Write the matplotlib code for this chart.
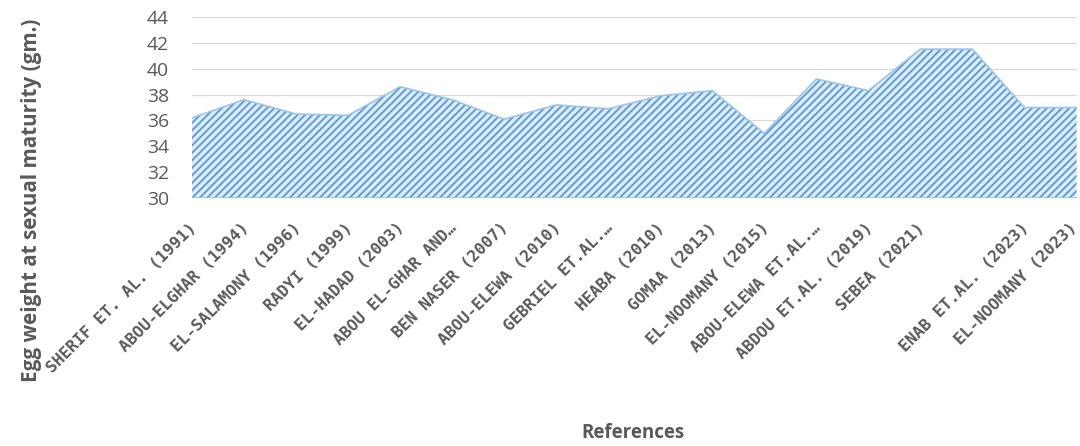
import matplotlib
matplotlib.use("Agg")
import matplotlib.pyplot as plt
from matplotlib.transforms import ScaledTranslation, blended_transform_factory

# Egg weight at sexual maturity reported by each reference
references = [
    "SHERIF ET. AL. (1991)",
    "ABOU-ELGHAR (1994)",
    "EL-SALAMONY (1996)",
    "RADYI (1999)",
    "EL-HADAD (2003)",
    "ABOU EL-GHAR AND…",
    "BEN NASER (2007)",
    "ABOU-ELEWA (2010)",
    "GEBRIEL ET.AL.…",
    "HEABA (2010)",
    "GOMAA (2013)",
    "EL-NOOMANY (2015)",
    "ABOU-ELEWA ET.AL.…",
    "ABDOU ET.AL. (2019)",
    "SEBEA (2021)",
    "",
    "ENAB ET.AL. (2023)",
    "EL-NOOMANY (2023)",
]
egg_weight = [36.2, 37.6, 36.5, 36.4, 38.6, 37.6, 36.1, 37.2, 36.9, 37.9,
              38.3, 35.0, 39.2, 38.3, 41.5, 41.5, 37.0, 37.0]
y_ticks = [30, 32, 34, 36, 38, 40, 42, 44]

TEXT = "#595959"
DPI = 90
W, H = 1080, 446

plt.rcParams["font.family"] = ["Open Sans", "DejaVu Sans"]
plt.rcParams["hatch.linewidth"] = 1.5

fig = plt.figure(figsize=(W / DPI, H / DPI), dpi=DPI)
fig.patch.set_facecolor("white")

left, right, top, bottom = 192, 1076.5, 16.7, 198.3
ax = fig.add_axes([left / W, 1 - bottom / H, (right - left) / W, (bottom - top) / H])

x = list(range(len(egg_weight)))

ax.fill_between(x, egg_weight, y_ticks[0], facecolor="#DDEBF7",
                edgecolor="#5B9BD5", linewidth=0, hatch="////", zorder=2)
ax.plot(x, egg_weight, color="#9DC3E6", linewidth=1.3, zorder=3)
ax.plot([x[0], x[-1]], [y_ticks[0], y_ticks[0]], color="#9DC3E6",
        linewidth=1.3, zorder=3)

ax.set_xlim(x[0], x[-1])
ax.set_ylim(y_ticks[0], y_ticks[-1])
ax.set_yticks(y_ticks)
ax.set_xticks([])
ax.yaxis.grid(True, color="#D9D9D9", linewidth=1.0)
ax.set_axisbelow(True)
for s in ax.spines.values():
    s.set_visible(False)
ax.tick_params(axis="y", length=0, pad=18.4, labelsize=15.5, labelcolor=TEXT)

# rotated category labels hanging below the plot area (wide, evenly spaced letters)
base_tf = blended_transform_factory(ax.transData, ax.transAxes)
for xi, ref in zip(x, references):
    dx = 2 if xi < x[-1] else -2
    tf = base_tf + ScaledTranslation(dx / DPI, -27 / DPI, fig.dpi_scale_trans)
    ax.text(xi, 0, ref, transform=tf, rotation=45, rotation_mode="anchor",
            ha="right", va="center", fontsize=13, fontweight="bold",
            family=["DejaVu Sans Mono"], color=TEXT, clip_on=False)

fig.text(32 / W, 1 - 200 / H, "Egg weight at sexual maturity (gm.)",
         rotation=90, ha="center", va="center", fontsize=16.5,
         fontweight="bold", color=TEXT)
fig.text(633 / W, 1 - 433 / H, "References", ha="center", va="center",
         fontsize=15, fontweight="bold", color=TEXT)

fig.savefig("out.png", dpi=DPI, facecolor="white")
